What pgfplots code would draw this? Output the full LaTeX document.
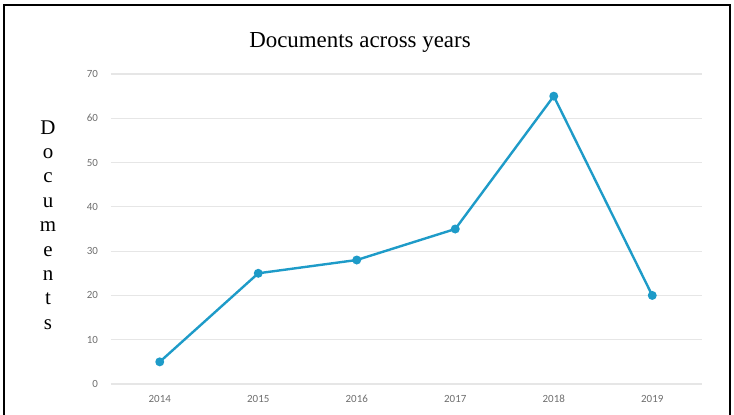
\documentclass[border=0pt]{standalone}
\usepackage{pgfplots}
\pgfplotsset{compat=1.18}
\usepackage{fontspec}
\setmainfont{Liberation Serif}
\newfontfamily\tickfont{Carlito}
\definecolor{linec}{RGB}{30,155,200}
\definecolor{gridc}{RGB}{230,230,230}
\definecolor{tickc}{RGB}{110,110,110}
\begin{document}
\begin{tikzpicture}
\path[use as bounding box] (-110.5bp,-31bp) rectangle (623.5bp,384bp);
\draw[line width=2.5bp,black] (-106.5bp,-31bp) -- (-106.5bp,379bp) -- (619.5bp,379bp) -- (619.5bp,-31bp);
\node[font=\fontsize{23}{24}\selectfont] at (249.5bp,342bp) {Documents across years};
\node[font=\fontsize{21}{24.5}\selectfont, align=center] at (-62.5bp,159bp) {D\\o\\c\\u\\m\\e\\n\\t\\s};
\begin{axis}[
  anchor=south west,
  scale only axis, width=591bp, height=310bp,
  xmin=-0.5, xmax=5.5, ymin=0, ymax=70,
  xtick={0,1,2,3,4,5},
  xticklabels={2014,2015,2016,2017,2018,2019},
  ytick={0,10,20,30,40,50,60,70},
  ymajorgrids, major grid style={gridc, line width=1.2bp},
  axis line style={draw=none},
  major tick length=0pt,
  tick label style={font=\tickfont\fontsize{11}{12}\selectfont, text=tickc},
  /pgf/number format/assume math mode=true,
  xticklabel style={yshift=-7bp, text height=7.5bp, text depth=0pt},
  yticklabel style={xshift=-9bp},
  clip=false,
]
\addplot[linec, line width=2.4bp, mark=*, mark size=3.2bp, mark options={fill=linec}]
coordinates {(0,5) (1,25) (2,28) (3,35) (4,65) (5,20)};
\end{axis}
\end{tikzpicture}
\end{document}
